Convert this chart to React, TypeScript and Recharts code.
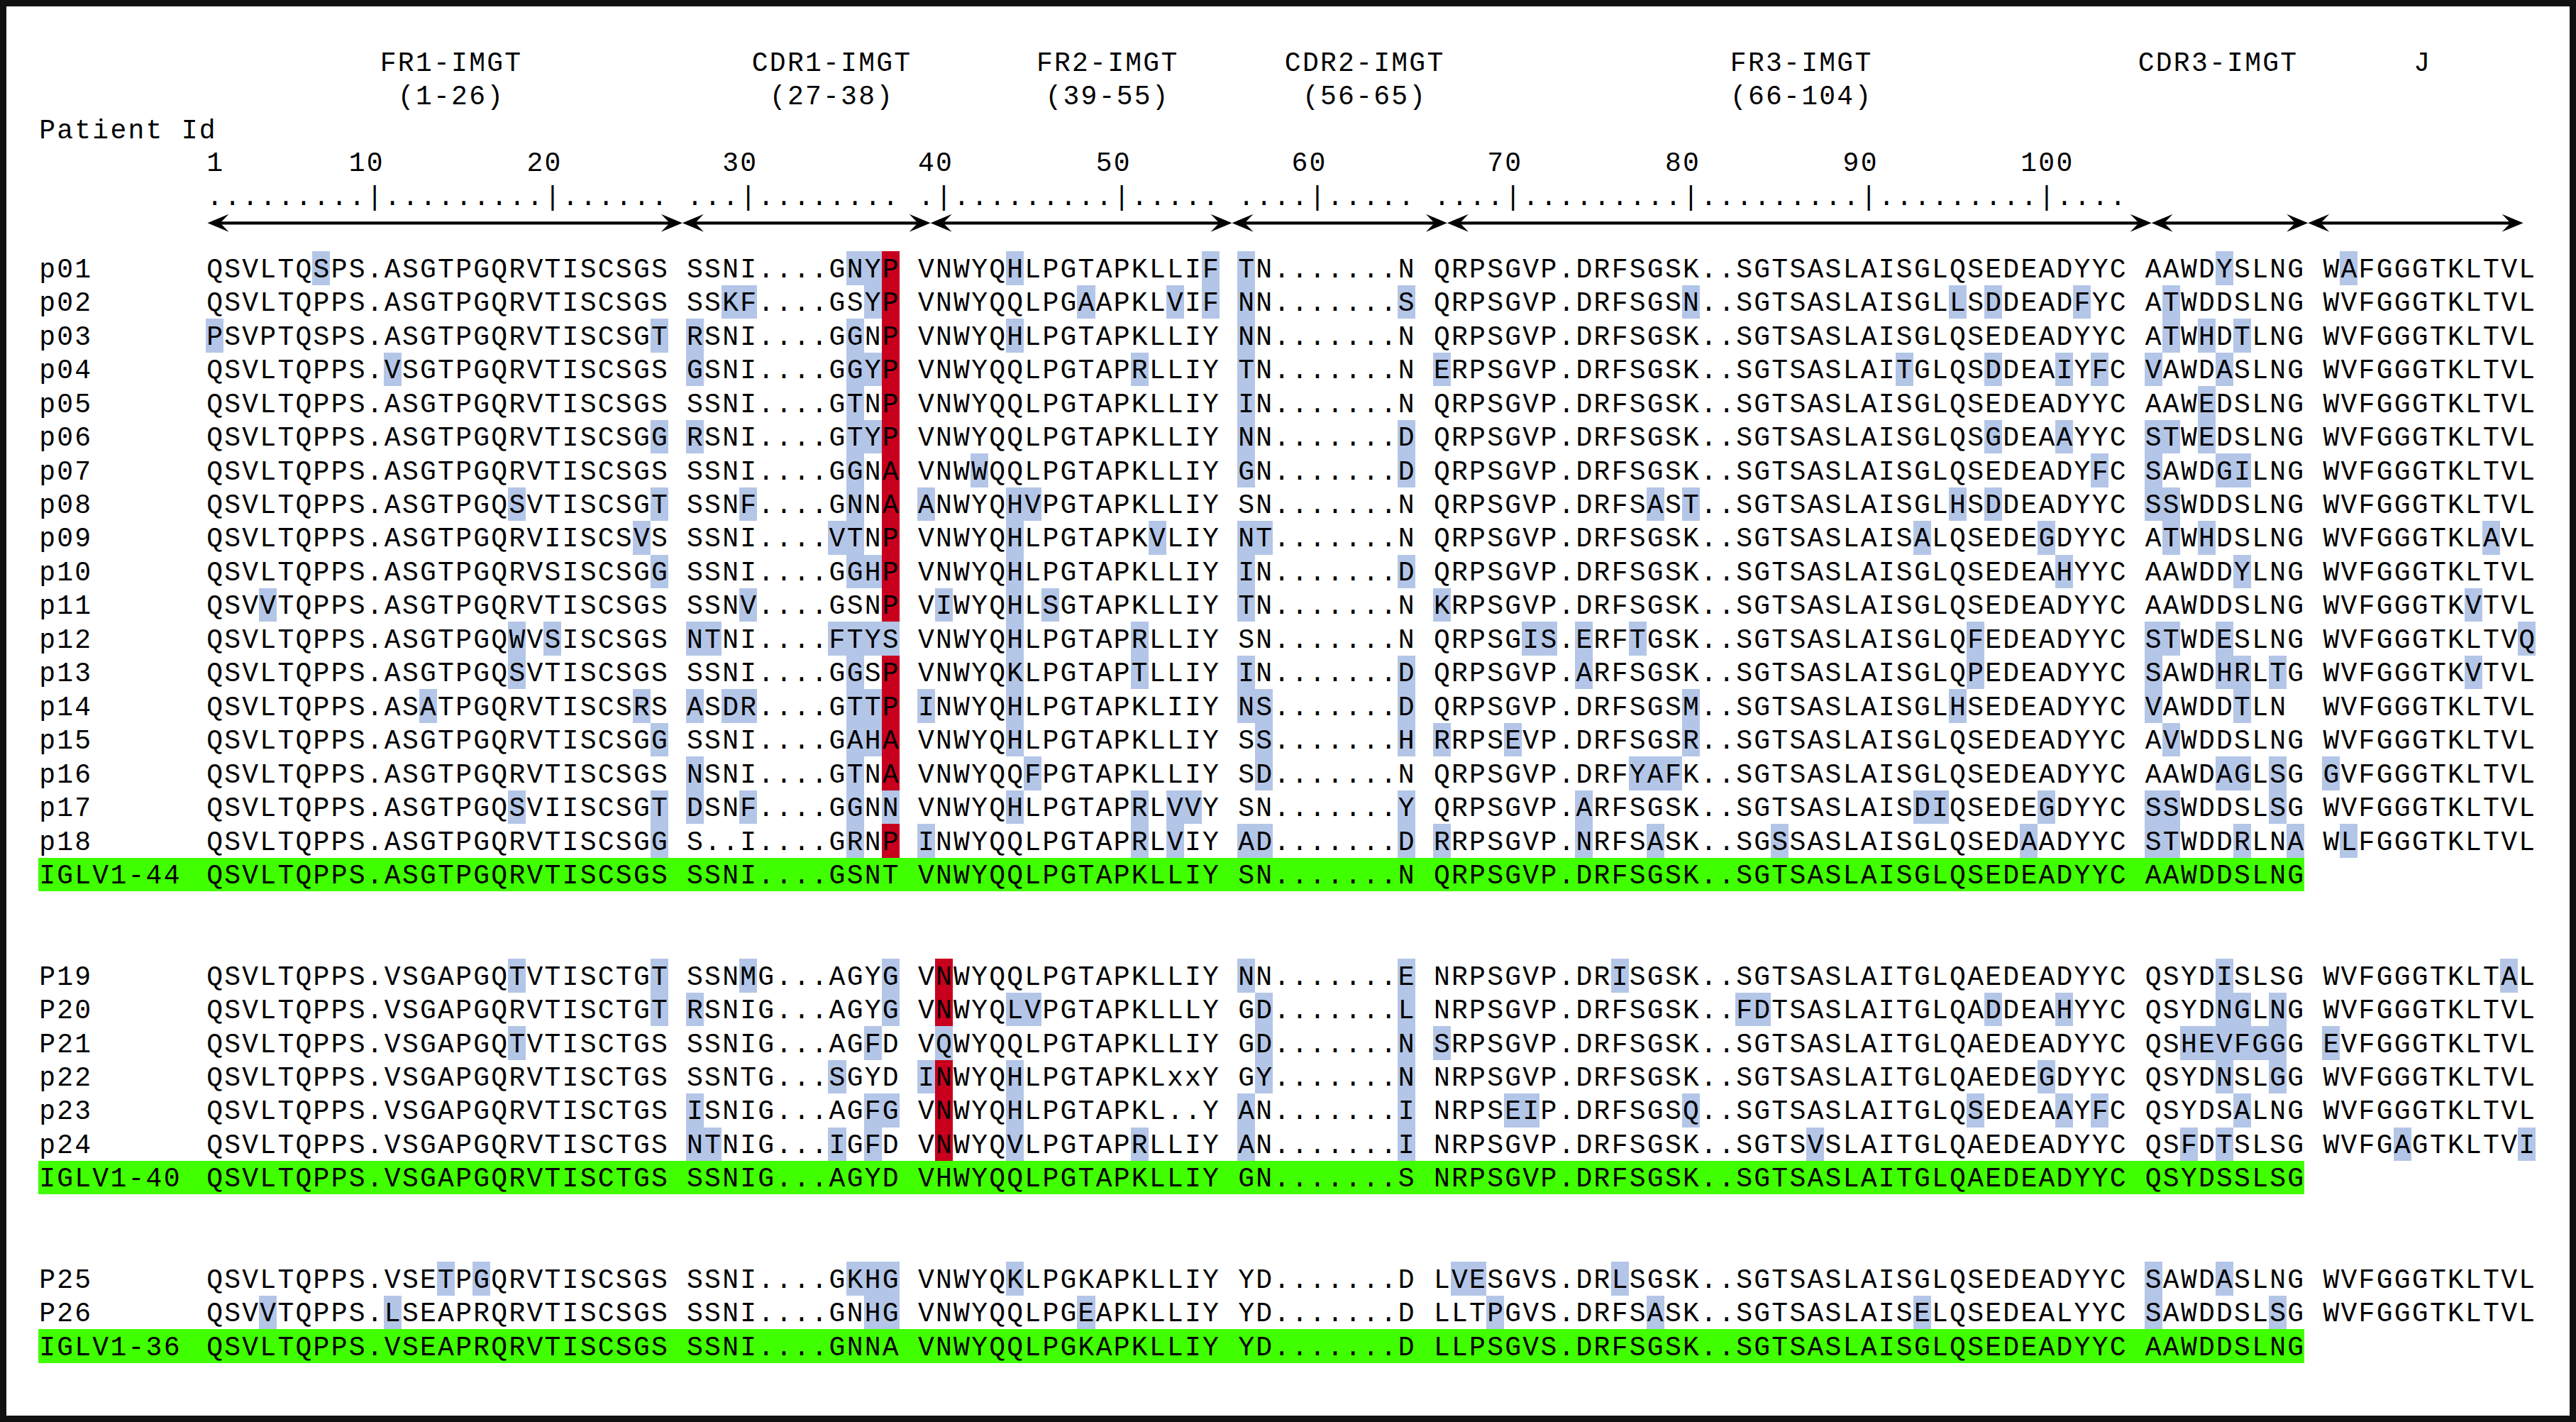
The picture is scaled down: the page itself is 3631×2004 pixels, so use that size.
import React from 'react';
import { ScatterChart, Scatter, XAxis, YAxis } from 'recharts';

// ---------------- DATA ----------------
const regionNames = ['FR1-IMGT', 'CDR1-IMGT', 'FR2-IMGT', 'CDR2-IMGT', 'FR3-IMGT', 'CDR3-IMGT', 'J'];
const regionRanges = ['(1-26)', '(27-38)', '(39-55)', '(56-65)', '(66-104)', '', ''];
const regionStartCol = [0, 27, 40, 58, 69, 109, 119];
const regionLabelCol = [13.76, 35.16, 50.66, 65.12, 89.67, 113.1, 124.6];
const imgtFirst = [1, 27, 39, 56, 66];
const imgtLast = [26, 38, 55, 65, 104];
const rulerLabels = ['1', '10', '20', '30', '40', '50', '60', '70', '80', '90', '100'];
const arrowStops = [0.1, 26.8, 40.75, 57.7, 69.8, 109.4, 118.2, 130.3];

const rowIds = [
  'p01', 'p02', 'p03', 'p04', 'p05', 'p06', 'p07', 'p08', 'p09', 'p10', 'p11', 'p12', 'p13', 'p14', 'p15', 'p16', 'p17', 'p18', 'IGLV1-44',
  'P19', 'P20', 'P21', 'p22', 'p23', 'p24', 'IGLV1-40',
  'P25', 'P26', 'IGLV1-36',
];
const rowSlot = [0, 1, 2, 3, 4, 5, 6, 7, 8, 9, 10, 11, 12, 13, 14, 15, 16, 17, 18, 21, 22, 23, 24, 25, 26, 27, 30, 31, 32];

const fr1 = [
  'QSVLTQSPS.ASGTPGQRVTISCSGS', 'QSVLTQPPS.ASGTPGQRVTISCSGS', 'PSVPTQSPS.ASGTPGQRVTISCSGT', 'QSVLTQPPS.VSGTPGQRVTISCSGS',
  'QSVLTQPPS.ASGTPGQRVTISCSGS', 'QSVLTQPPS.ASGTPGQRVTISCSGG', 'QSVLTQPPS.ASGTPGQRVTISCSGS', 'QSVLTQPPS.ASGTPGQSVTISCSGT',
  'QSVLTQPPS.ASGTPGQRVIISCSVS', 'QSVLTQPPS.ASGTPGQRVSISCSGG', 'QSVVTQPPS.ASGTPGQRVTISCSGS', 'QSVLTQPPS.ASGTPGQWVSISCSGS',
  'QSVLTQPPS.ASGTPGQSVTISCSGS', 'QSVLTQPPS.ASATPGQRVTISCSRS', 'QSVLTQPPS.ASGTPGQRVTISCSGG', 'QSVLTQPPS.ASGTPGQRVTISCSGS',
  'QSVLTQPPS.ASGTPGQSVIISCSGT', 'QSVLTQPPS.ASGTPGQRVTISCSGG', 'QSVLTQPPS.ASGTPGQRVTISCSGS',
  'QSVLTQPPS.VSGAPGQTVTISCTGT', 'QSVLTQPPS.VSGAPGQRVTISCTGT', 'QSVLTQPPS.VSGAPGQTVTISCTGS', 'QSVLTQPPS.VSGAPGQRVTISCTGS',
  'QSVLTQPPS.VSGAPGQRVTISCTGS', 'QSVLTQPPS.VSGAPGQRVTISCTGS', 'QSVLTQPPS.VSGAPGQRVTISCTGS',
  'QSVLTQPPS.VSETPGQRVTISCSGS', 'QSVVTQPPS.LSEAPRQRVTISCSGS', 'QSVLTQPPS.VSEAPRQRVTISCSGS',
];
const cdr1 = [
  'SSNI....GNYP', 'SSKF....GSYP', 'RSNI....GGNP', 'GSNI....GGYP', 'SSNI....GTNP', 'RSNI....GTYP', 'SSNI....GGNA',
  'SSNF....GNNA', 'SSNI....VTNP', 'SSNI....GGHP', 'SSNV....GSNP', 'NTNI....FTYS', 'SSNI....GGSP', 'ASDR....GTTP',
  'SSNI....GAHA', 'NSNI....GTNA', 'DSNF....GGNN', 'S..I....GRNP', 'SSNI....GSNT',
  'SSNMG...AGYG', 'RSNIG...AGYG', 'SSNIG...AGFD', 'SSNTG...SGYD', 'ISNIG...AGFG', 'NTNIG...IGFD', 'SSNIG...AGYD',
  'SSNI....GKHG', 'SSNI....GNHG', 'SSNI....GNNA',
];
const fr2 = [
  'VNWYQHLPGTAPKLLIF', 'VNWYQQLPGAAPKLVIF', 'VNWYQHLPGTAPKLLIY', 'VNWYQQLPGTAPRLLIY', 'VNWYQQLPGTAPKLLIY',
  'VNWYQQLPGTAPKLLIY', 'VNWWQQLPGTAPKLLIY', 'ANWYQHVPGTAPKLLIY', 'VNWYQHLPGTAPKVLIY', 'VNWYQHLPGTAPKLLIY',
  'VIWYQHLSGTAPKLLIY', 'VNWYQHLPGTAPRLLIY', 'VNWYQKLPGTAPTLLIY', 'INWYQHLPGTAPKLIIY', 'VNWYQHLPGTAPKLLIY',
  'VNWYQQFPGTAPKLLIY', 'VNWYQHLPGTAPRLVVY', 'INWYQQLPGTAPRLVIY', 'VNWYQQLPGTAPKLLIY',
  'VNWYQQLPGTAPKLLIY', 'VNWYQLVPGTAPKLLLY', 'VQWYQQLPGTAPKLLIY', 'INWYQHLPGTAPKLxxY', 'VNWYQHLPGTAPKL..Y',
  'VNWYQVLPGTAPRLLIY', 'VHWYQQLPGTAPKLLIY',
  'VNWYQKLPGKAPKLLIY', 'VNWYQQLPGEAPKLLIY', 'VNWYQQLPGKAPKLLIY',
];
const cdr2 = [
  'TN.......N', 'NN.......S', 'NN.......N', 'TN.......N', 'IN.......N', 'NN.......D', 'GN.......D', 'SN.......N',
  'NT.......N', 'IN.......D', 'TN.......N', 'SN.......N', 'IN.......D', 'NS.......D', 'SS.......H', 'SD.......N',
  'SN.......Y', 'AD.......D', 'SN.......N',
  'NN.......E', 'GD.......L', 'GD.......N', 'GY.......N', 'AN.......I', 'AN.......I', 'GN.......S',
  'YD.......D', 'YD.......D', 'YD.......D',
];
const fr3 = [
  'QRPSGVP.DRFSGSK..SGTSASLAISGLQSEDEADYYC', 'QRPSGVP.DRFSGSN..SGTSASLAISGLLSDDEADFYC',
  'QRPSGVP.DRFSGSK..SGTSASLAISGLQSEDEADYYC', 'ERPSGVP.DRFSGSK..SGTSASLAITGLQSDDEAIYFC',
  'QRPSGVP.DRFSGSK..SGTSASLAISGLQSEDEADYYC', 'QRPSGVP.DRFSGSK..SGTSASLAISGLQSGDEAAYYC',
  'QRPSGVP.DRFSGSK..SGTSASLAISGLQSEDEADYFC', 'QRPSGVP.DRFSAST..SGTSASLAISGLHSDDEADYYC',
  'QRPSGVP.DRFSGSK..SGTSASLAISALQSEDEGDYYC', 'QRPSGVP.DRFSGSK..SGTSASLAISGLQSEDEAHYYC',
  'KRPSGVP.DRFSGSK..SGTSASLAISGLQSEDEADYYC', 'QRPSGIS.ERFTGSK..SGTSASLAISGLQFEDEADYYC',
  'QRPSGVP.ARFSGSK..SGTSASLAISGLQPEDEADYYC', 'QRPSGVP.DRFSGSM..SGTSASLAISGLHSEDEADYYC',
  'RRPSEVP.DRFSGSR..SGTSASLAISGLQSEDEADYYC', 'QRPSGVP.DRFYAFK..SGTSASLAISGLQSEDEADYYC',
  'QRPSGVP.ARFSGSK..SGTSASLAISDIQSEDEGDYYC', 'RRPSGVP.NRFSASK..SGSSASLAISGLQSEDAADYYC',
  'QRPSGVP.DRFSGSK..SGTSASLAISGLQSEDEADYYC',
  'NRPSGVP.DRISGSK..SGTSASLAITGLQAEDEADYYC', 'NRPSGVP.DRFSGSK..FDTSASLAITGLQADDEAHYYC',
  'SRPSGVP.DRFSGSK..SGTSASLAITGLQAEDEADYYC', 'NRPSGVP.DRFSGSK..SGTSASLAITGLQAEDEGDYYC',
  'NRPSEIP.DRFSGSQ..SGTSASLAITGLQSEDEAAYFC', 'NRPSGVP.DRFSGSK..SGTSVSLAITGLQAEDEADYYC',
  'NRPSGVP.DRFSGSK..SGTSASLAITGLQAEDEADYYC',
  'LVESGVS.DRLSGSK..SGTSASLAISGLQSEDEADYYC', 'LLTPGVS.DRFSASK..SGTSASLAISELQSEDEALYYC',
  'LLPSGVS.DRFSGSK..SGTSASLAISGLQSEDEADYYC',
];
const cdr3 = [
  'AAWDYSLNG', 'ATWDDSLNG', 'ATWHDTLNG', 'VAWDASLNG', 'AAWEDSLNG', 'STWEDSLNG', 'SAWDGILNG', 'SSWDDSLNG',
  'ATWHDSLNG', 'AAWDDYLNG', 'AAWDDSLNG', 'STWDESLNG', 'SAWDHRLTG', 'VAWDDTLN', 'AVWDDSLNG', 'AAWDAGLSG',
  'SSWDDSLSG', 'STWDDRLNA', 'AAWDDSLNG',
  'QSYDISLSG', 'QSYDNGLNG', 'QSHEVFGGG', 'QSYDNSLGG', 'QSYDSALNG', 'QSFDTSLSG', 'QSYDSSLSG',
  'SAWDASLNG', 'SAWDDSLSG', 'AAWDDSLNG',
];
const jSeg = [
  'WAFGGGTKLTVL', 'WVFGGGTKLTVL', 'WVFGGGTKLTVL', 'WVFGGGTKLTVL', 'WVFGGGTKLTVL', 'WVFGGGTKLTVL', 'WVFGGGTKLTVL',
  'WVFGGGTKLTVL', 'WVFGGGTKLAVL', 'WVFGGGTKLTVL', 'WVFGGGTKVTVL', 'WVFGGGTKLTVQ', 'WVFGGGTKVTVL', 'WVFGGGTKLTVL',
  'WVFGGGTKLTVL', 'GVFGGGTKLTVL', 'WVFGGGTKLTVL', 'WLFGGGTKLTVL', '',
  'WVFGGGTKLTAL', 'WVFGGGTKLTVL', 'EVFGGGTKLTVL', 'WVFGGGTKLTVL', 'WVFGGGTKLTVL', 'WVFGAGTKLTVI', '',
  'WVFGGGTKLTVL', 'WVFGGGTKLTVL', '',
];
// highlighted columns (blue = substitution, red = key position)
const blueCols: number[][] = [
  [6, 36, 37, 45, 56, 58, 113, 120],
  [29, 30, 37, 49, 54, 56, 58, 67, 83, 98, 100, 105, 110],
  [0, 25, 27, 36, 45, 58, 110, 112, 114],
  [10, 27, 36, 37, 52, 58, 69, 95, 100, 104, 106, 109, 113],
  [36, 58, 112],
  [25, 27, 36, 37, 58, 67, 100, 104, 109, 110, 112],
  [36, 43, 58, 67, 106, 109, 113, 114],
  [17, 25, 30, 36, 40, 45, 46, 81, 83, 98, 100, 109, 110],
  [24, 35, 36, 45, 53, 58, 59, 96, 103, 110, 112, 128],
  [25, 36, 37, 45, 58, 67, 104, 114],
  [3, 30, 41, 45, 47, 58, 69, 127],
  [17, 19, 27, 28, 35, 36, 37, 38, 45, 52, 74, 75, 77, 80, 99, 109, 110, 113, 130],
  [17, 36, 45, 52, 58, 67, 77, 99, 109, 113, 114, 116, 127],
  [12, 24, 27, 29, 30, 36, 37, 40, 45, 58, 59, 67, 83, 98, 109, 114],
  [25, 36, 37, 45, 59, 67, 69, 73, 83, 110],
  [27, 36, 46, 59, 80, 81, 82, 113, 114, 116, 119],
  [17, 25, 27, 30, 36, 38, 45, 52, 54, 55, 67, 77, 96, 97, 103, 109, 110, 116],
  [25, 36, 40, 52, 54, 58, 59, 67, 69, 77, 81, 88, 102, 109, 110, 114, 117, 120],
  [],
  [17, 25, 30, 38, 58, 67, 79, 113, 129],
  [25, 27, 38, 45, 46, 59, 67, 86, 87, 100, 104, 113, 114, 116],
  [17, 37, 41, 59, 67, 69, 111, 112, 113, 114, 115, 116, 119],
  [35, 40, 45, 59, 67, 103, 113, 116],
  [27, 37, 38, 45, 58, 67, 73, 74, 83, 99, 104, 106, 114],
  [27, 28, 35, 37, 45, 52, 58, 67, 90, 111, 113, 123, 130],
  [],
  [13, 15, 36, 37, 38, 45, 70, 71, 79, 109, 113],
  [3, 10, 37, 38, 49, 72, 81, 96, 109, 116],
  [],
];
const redCols: number[][] = [
  [38], [38], [38], [38], [38], [38], [38], [38], [38], [38], [38], [], [38], [38], [38], [38], [], [38], [],
  [41], [41], [], [41], [41], [41], [],
  [], [], [],
];

// ---------------- LAYOUT ----------------
const CHART_W = 3631;
const CHART_H = 2004;
const COL0 = 290;
const COL_W = 25.07;
const ROW0 = 354.3;
const ROW_H = 47.47;
const FONT = "'Liberation Mono', 'DejaVu Sans Mono', monospace";
const FONT_SIZE = 38;
const LETTER_SP = COL_W - FONT_SIZE * 0.6;
const rowAt = (px: number) => (px - ROW0) / ROW_H;
const LABEL_COL = (54 - COL0) / COL_W;
const BASE = 36.4 / ROW_H;
const X_DOMAIN: [number, number] = [-COL0 / COL_W, (CHART_W - COL0) / COL_W];
const Y_DOMAIN: [number, number] = [-ROW0 / ROW_H, (CHART_H - ROW0) / ROW_H];
const BLUE = '#b4c6e7';
const RED = '#c8001e';
const GREEN = '#40ff00';

// ---------------- DERIVED POINTS ----------------
const segs = [fr1, cdr1, fr2, cdr2, fr3, cdr3, jSeg];
const isGerm = (id: string) => id.startsWith('IGLV');

const greenPts = rowIds
  .map((id, r) => ({ id, r }))
  .filter((o) => isGerm(o.id))
  .map((o) => ({ x: LABEL_COL, y: rowSlot[o.r], x2: regionStartCol[5] + 9, fill: GREEN }));

const cellPts = rowIds.flatMap((_, r) => [
  ...blueCols[r].map((c) => ({ x: c, y: rowSlot[r], x2: c + 1, fill: BLUE })),
  ...redCols[r].map((c) => ({ x: c, y: rowSlot[r], x2: c + 1, fill: RED })),
]);

const seqTextPts = rowIds.flatMap((id, r) => [
  { x: LABEL_COL, y: rowSlot[r] + BASE, text: id, anchor: 'start' },
  ...segs
    .map((s, k) => ({ x: regionStartCol[k], y: rowSlot[r] + BASE, text: s[r], anchor: 'start' }))
    .filter((p) => p.text),
]);

const rulerStrings = imgtFirst.map((a, k) => {
  let s = '';
  for (let p = a; p <= imgtLast[k]; p++) s += p % 10 === 0 ? '|' : '.';
  return s;
});
const colOfImgt = (p: number) => {
  const k = imgtFirst.findIndex((a, i) => p >= a && p <= imgtLast[i]);
  return regionStartCol[k] + (p - imgtFirst[k]);
};

const headerPts = [
  ...regionNames.map((t, k) => ({ x: regionLabelCol[k], y: rowAt(100), text: t, anchor: 'middle' })),
  ...regionRanges
    .map((t, k) => ({ x: regionLabelCol[k], y: rowAt(146.7), text: t, anchor: 'middle' }))
    .filter((p) => p.text),
  { x: LABEL_COL, y: rowAt(195), text: 'Patient Id', anchor: 'start' },
  ...rulerLabels.map((t) => {
    const p = Number(t);
    const pipe = colOfImgt(p);
    return { x: t.length > 1 ? pipe - 1 : pipe, y: rowAt(241), text: t, anchor: 'start' };
  }),
  ...rulerStrings.map((s, k) => ({ x: regionStartCol[k], y: rowAt(289), text: s, anchor: 'start' })),
];

const arrowPts = arrowStops.slice(0, -1).map((a, i) => ({ x: a, x2: arrowStops[i + 1], y: rowAt(314.3) }));

// ---------------- SHAPES ----------------
function RectShape(props: any) {
  const { cx, cy, payload } = props;
  if (cx == null || cy == null) return <g />;
  return (
    <rect
      x={cx}
      y={cy}
      width={(payload.x2 - payload.x) * COL_W}
      height={ROW_H}
      fill={payload.fill}
      shapeRendering="crispEdges"
    />
  );
}

function TextShape(props: any) {
  const { cx, cy, payload } = props;
  if (cx == null || cy == null) return <g />;
  return (
    <text
      x={cx + LETTER_SP / 2}
      y={cy}
      fontFamily={FONT}
      fontSize={FONT_SIZE}
      fill="#000"
      textAnchor={payload.anchor}
      style={{ letterSpacing: `${LETTER_SP}px`, whiteSpace: 'pre' }}
    >
      {payload.text}
    </text>
  );
}

function ArrowShape(props: any) {
  const { cx, cy, payload } = props;
  if (cx == null || cy == null) return <g />;
  const x2 = cx + (payload.x2 - payload.x) * COL_W;
  const L = 30;
  const hh = 12.5;
  const n = 18;
  return (
    <g>
      <line x1={cx + n} x2={x2 - n} y1={cy} y2={cy} stroke="#000" strokeWidth={4.3} />
      <polygon points={`${cx},${cy} ${cx + L},${cy - hh} ${cx + n},${cy} ${cx + L},${cy + hh}`} fill="#000" />
      <polygon points={`${x2},${cy} ${x2 - L},${cy - hh} ${x2 - n},${cy} ${x2 - L},${cy + hh}`} fill="#000" />
    </g>
  );
}

export default function App() {
  return (
    <div
      style={{
        position: 'fixed',
        left: 0,
        top: 0,
        width: CHART_W,
        height: CHART_H,
        background: '#fff',
        overflow: 'hidden',
      }}
    >
      <ScatterChart width={CHART_W} height={CHART_H} margin={{ top: 0, right: 0, bottom: 0, left: 0 }}>
        <XAxis type="number" dataKey="x" domain={X_DOMAIN} hide allowDataOverflow />
        <YAxis type="number" dataKey="y" domain={Y_DOMAIN} hide reversed allowDataOverflow />
        <Scatter data={greenPts} shape={RectShape} isAnimationActive={false} />
        <Scatter data={cellPts} shape={RectShape} isAnimationActive={false} />
        <Scatter data={arrowPts} shape={ArrowShape} isAnimationActive={false} />
        <Scatter data={headerPts} shape={TextShape} isAnimationActive={false} />
        <Scatter data={seqTextPts} shape={TextShape} isAnimationActive={false} />
      </ScatterChart>
      <div
        style={{
          position: 'absolute',
          left: 0,
          top: 0,
          width: CHART_W,
          height: CHART_H,
          boxSizing: 'border-box',
          border: '9px solid #111',
          pointerEvents: 'none',
        }}
      />
    </div>
  );
}
